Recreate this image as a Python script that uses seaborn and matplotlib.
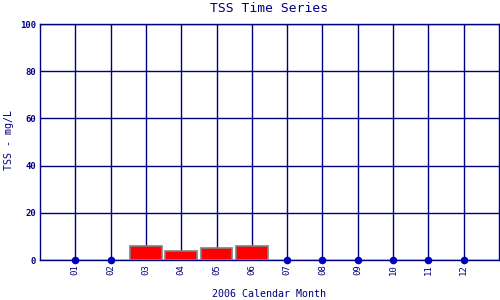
import matplotlib
matplotlib.use("Agg")
import matplotlib.pyplot as plt
import seaborn as sns
import pandas as pd

months = [1, 2, 3, 4, 5, 6, 7, 8, 9, 10, 11, 12]
tick_labels = ["01", "02", "03", "04", "05", "06", "07", "08", "09", "10", "11", "12"]
bar_months = [3, 4, 5, 6]
bar_values = [5.8, 3.8, 4.9, 5.8]
zero_months = [1, 2, 7, 8, 9, 10, 11, 12]
zero_values = [0, 0, 0, 0, 0, 0, 0, 0]
y_ticks = [0, 20, 40, 60, 80, 100]

sns.set_style("white")
plt.rcParams['font.family'] = ['DejaVu Sans Mono', 'DejaVu Sans']
navy = "#000080"

fig = plt.figure(figsize=(5, 3), dpi=100)
ax = fig.add_axes([40/500, 40/300, 459/500, 236/300])

bars = pd.DataFrame({"month": bar_months, "tss": bar_values})
sns.barplot(data=bars, x="month", y="tss", native_scale=True, width=0.9,
            color="#ff0000", saturation=1, edgecolor="#808080", linewidth=1.2,
            ax=ax, zorder=3)
zeros = pd.DataFrame({"month": zero_months, "tss": zero_values})
sns.scatterplot(data=zeros, x="month", y="tss", color="#0000c0", s=30,
                linewidth=0, ax=ax, zorder=4, clip_on=False)

ax.set_xlim(0, 13)
ax.set_ylim(0, 100)
ax.set_xticks(months)
ax.set_xticklabels(tick_labels, rotation=90, fontsize=6.5, color=navy)
ax.set_yticks(y_ticks)
ax.set_yticklabels([str(v) for v in y_ticks], fontsize=6.5, color=navy, fontweight="bold")
ax.tick_params(axis="both", length=0, pad=3)
ax.grid(True, color=navy, linewidth=1.0)
ax.set_axisbelow(True)
for s in ax.spines.values():
    s.set_color(navy)
    s.set_linewidth(1.0)
    s.set_visible(True)
ax.set_xlabel("")
ax.set_ylabel("")
fig.text(269/500, 1 - 294/300, "2006 Calendar Month", fontsize=7.2, color=navy,
         ha="center", va="center")
fig.text(9/500, 1 - 140/300, "TSS - mg/L", fontsize=7.2, color=navy,
         ha="center", va="center", rotation=90)
fig.text(269/500, 1 - 9/300, "TSS Time Series", fontsize=9.4, color=navy,
         ha="center", va="center")

fig.savefig("out.png", dpi=100)
